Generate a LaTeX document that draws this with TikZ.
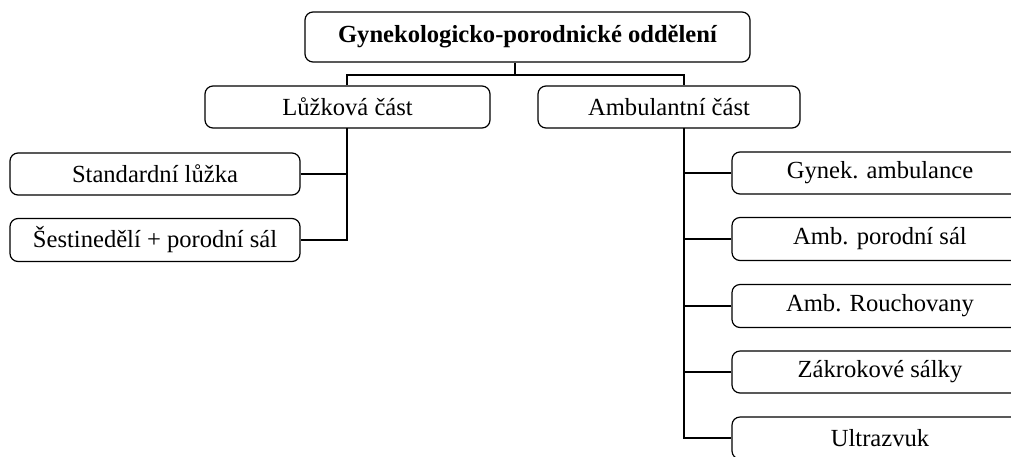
\documentclass[tikz,border=0pt]{standalone}
\usepackage{fontspec}
\setmainfont{Liberation Serif}
\begin{document}
\begin{tikzpicture}[x=1pt,y=-1pt,
  box/.style={draw,rounded corners=8pt,line width=1.2pt,font=\fontsize{24.6}{28}\selectfont},
  conn/.style={line width=1.2pt}]
\useasboundingbox (0,0) rectangle (1011,456);
\clip (0,0) rectangle (1011,456);
\node[box,minimum width=445pt,minimum height=50pt,font=\fontsize{24.6}{28}\selectfont\bfseries] (top) at (527.5,37) {Gynekologicko-porodnické oddělení};
\node[box,minimum width=285pt,minimum height=42pt] (luz) at (347.5,107) {Lůžková část};
\node[box,minimum width=262pt,minimum height=42pt] (amb) at (669,107) {Ambulantní část};
\node[box,minimum width=290pt,minimum height=42pt] (std) at (155,174) {Standardní lůžka};
\node[box,minimum width=290pt,minimum height=43pt] (ses) at (155,240) {Šestinedělí + porodní sál};
\node[box,minimum width=296pt,minimum height=42pt] (g1) at (880,173) {Gynek. ambulance};
\node[box,minimum width=296pt,minimum height=43pt] (g2) at (880,239) {Amb. porodní sál};
\node[box,minimum width=296pt,minimum height=43pt] (g3) at (880,306) {Amb. Rouchovany};
\node[box,minimum width=296pt,minimum height=42pt] (g4) at (880,372) {Zákrokové sálky};
\node[box,minimum width=296pt,minimum height=42pt] (g5) at (880,438) {Ultrazvuk};
\coordinate (hub) at (515,75);
\coordinate (lv) at (347,128);
\coordinate (av) at (684,128);
\draw[conn] (top.south -| hub) -- (hub);
\draw[conn] (hub) -| (luz.north -| lv);
\draw[conn] (hub) -| (amb.north -| av);
\draw[conn] (lv) |- (ses.east);
\draw[conn] (std.east) -| (lv);
\draw[conn] (av) |- (g5.west);
\draw[conn] (g1.west) -| (av);
\draw[conn] (g2.west) -| (av);
\draw[conn] (g3.west) -| (av);
\draw[conn] (g4.west) -| (av);
\end{tikzpicture}
\end{document}
